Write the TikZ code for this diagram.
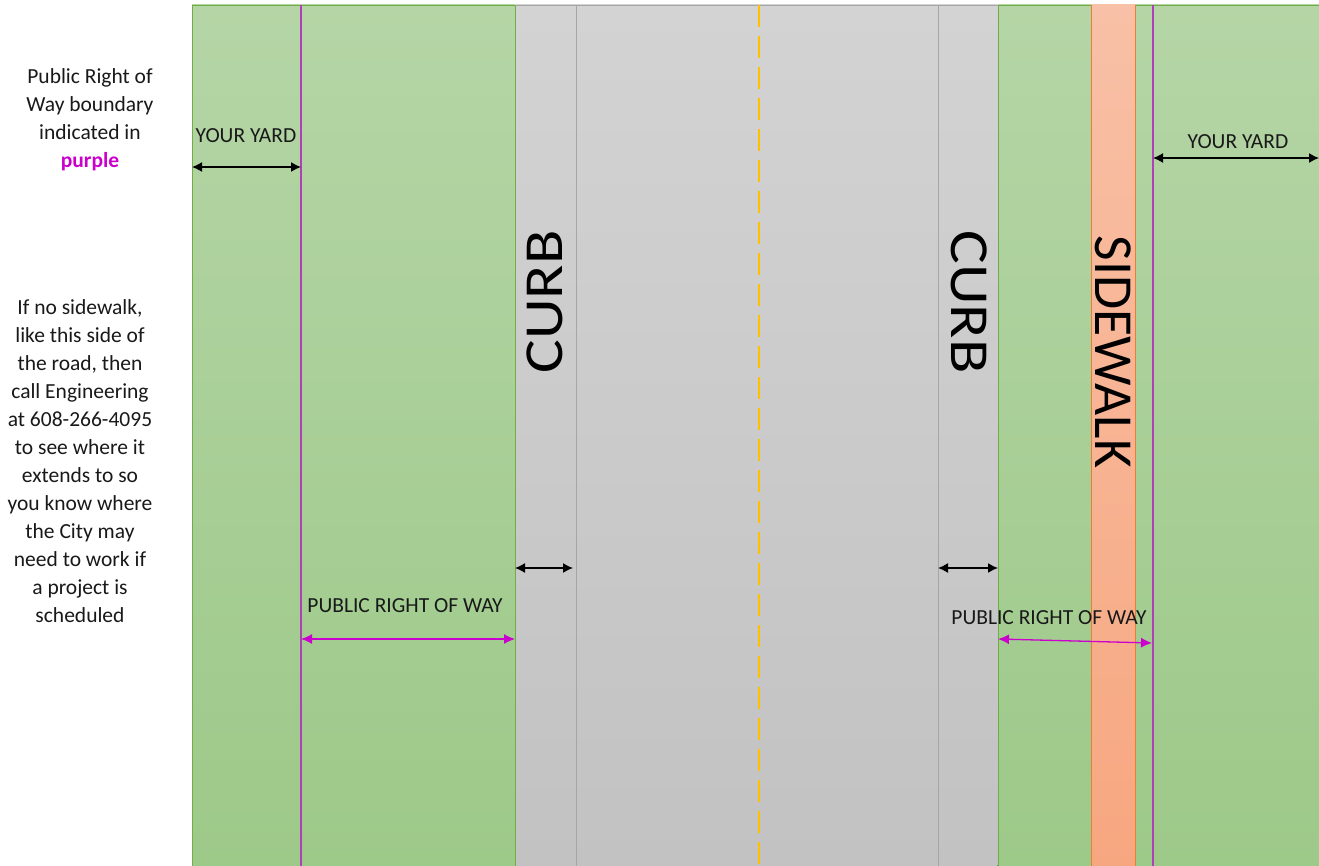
\documentclass[tikz,border=0pt]{standalone}
\usepackage{fontspec}
\usepackage{graphicx}
\setmainfont{Carlito}
\usetikzlibrary{arrows.meta}
\definecolor{grtop}{HTML}{B5D5A6}
\definecolor{grbot}{HTML}{9DC989}
\definecolor{grline}{HTML}{70AD47}
\definecolor{gytop}{HTML}{D3D3D3}
\definecolor{gybot}{HTML}{C2C2C2}
\definecolor{gyline}{HTML}{A6A6A6}
\definecolor{swtop}{HTML}{F8C0A6}
\definecolor{swbot}{HTML}{F7A780}
\definecolor{swline}{HTML}{ED7D31}
\definecolor{rowline}{HTML}{B040B8}
\definecolor{rowarrow}{HTML}{CC00CC}
\definecolor{yel}{HTML}{FFC000}
\tikzset{
  x=1pt,y=-1pt,
  lab/.style={font=\fontsize{21.5}{26}\selectfont,inner sep=0pt,text=black!90},
  side/.style={font=\fontsize{21.5}{28}\selectfont,align=center,inner sep=0pt,text=black!90},
  big/.style={font=\fontsize{55}{60}\selectfont,inner sep=0pt,text=black},
  mag/.style={{Latex[length=11pt,width=10pt]}-{Latex[length=11pt,width=10pt]},line width=1.3pt,rowarrow},
  blkarr/.style={{Latex[length=10pt,width=10pt]}-{Latex[length=10pt,width=10pt]},line width=1.4pt,black},
}
\begin{document}
\begin{tikzpicture}
\useasboundingbox (0,0) rectangle (1319,866);
\fill[white] (0,0) rectangle (1319,866);
% green areas
\fill[top color=grtop,bottom color=grbot] (192,5) rectangle (515,866);
\fill[top color=grtop,bottom color=grbot] (998,5) rectangle (1319,866);
\draw[grline,line width=1pt] (192,866) -- (192,5.5) -- (515,5.5) -- (515,866);
\draw[grline,line width=1pt] (1319,5.5) -- (998,5.5) -- (998,866);
% road
\fill[top color=gytop,bottom color=gybot] (515.5,5) rectangle (997.5,866);
\draw[gyline,line width=1pt] (515.5,5.5) -- (997.5,5.5);
\draw[gyline,line width=1pt] (576,5.5) -- (576,866);
\draw[gyline,line width=1pt] (938,5.5) -- (938,866);
\draw[grline,line width=1pt] (515,5.5) -- (515,866);
\draw[grline,line width=1pt] (998,5.5) -- (998,866);
% centre line
\draw[yel,line width=2.6pt,dash pattern=on 22pt off 9pt] (759,5) -- (759,866);
% sidewalk
\fill[top color=swtop,bottom color=swbot] (1091,5) rectangle (1135,866);
\draw[swline,line width=1pt] (1091,866) -- (1091,5) (1135,5) -- (1135,866);
% row boundary lines
\draw[rowline,line width=1.2pt] (301,5) -- (301,866);
\draw[rowline,line width=1.2pt] (1153,5) -- (1153,866);
% big labels
\node[big,rotate=90] (curbL) at (545,302) {\scalebox{1.15}[1]{CURB}};
\node[big,rotate=-90] (curbR) at (969,302) {\scalebox{1.15}[1]{CURB}};
\node[big,rotate=-90] (sidewalk) at (1113,352) {\scalebox{1.01}[1]{SIDEWALK}};
% side texts
\node[side] (legend) at (90,120) {Public Right of\\Way boundary\\indicated in\\\textcolor{rowarrow}{\textbf{purple}}};
\node[side] (note) at (80,461) {If no sidewalk,\\like this side of\\the road, then\\call Engineering\\at 608-266-4095\\to see where it\\extends to so\\you know where\\the City may\\need to work if\\a project is\\scheduled};
% yard labels and arrows
\node[lab] (yardL) at (246,136) {YOUR YARD};
\coordinate (yL1) at (192,167);
\coordinate (yL2) at (301,167);
\draw[blkarr] (yL1) -- (yL2);
\node[lab] (yardR) at (1238,142) {YOUR YARD};
\coordinate (yR1) at (1153,158);
\coordinate (yR2) at (1319,158);
\draw[blkarr] (yR1) -- (yR2);
% curb arrows
\coordinate (cL1) at (515,568);
\coordinate (cL2) at (573,568);
\draw[blkarr] (cL1) -- (cL2);
\coordinate (cR1) at (938,568);
\coordinate (cR2) at (998,568);
\draw[blkarr] (cR1) -- (cR2);
% public right of way
\node[lab] (rowL) at (405,606) {PUBLIC RIGHT OF WAY};
\coordinate (rL1) at (301,639);
\coordinate (rL2) at (515,639);
\draw[mag] (rL1) -- (rL2);
\node[lab] (rowR) at (1049,618) {PUBLIC RIGHT OF WAY};
\coordinate (rR1) at (998,639);
\coordinate (rR2) at (1152,643);
\draw[mag] (rR1) -- (rR2);
\end{tikzpicture}
\end{document}
